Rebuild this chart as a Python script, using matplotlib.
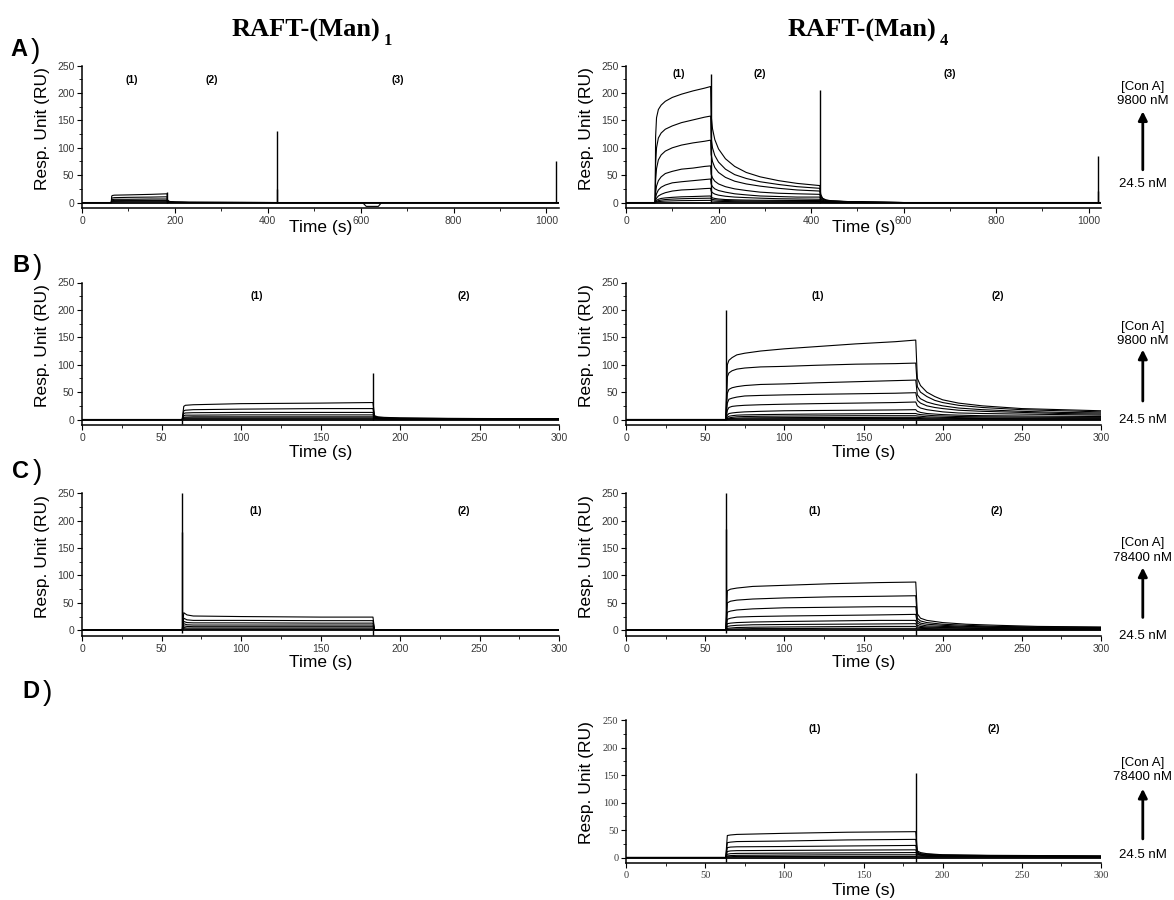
import matplotlib
matplotlib.use("Agg")
import matplotlib.pyplot as plt
from matplotlib.ticker import MultipleLocator

# ---------------- data ----------------
# Panel A, RAFT-(Man)1, 9800 nM top
times_A1 = [0, 62, 63, 64, 66, 70, 100, 150, 183, 184, 187, 192, 200, 230, 419, 421, 605, 612, 638, 645, 1027]
curves_A1 = [
    [0, 0, 0, 12, 13, 13.5, 14, 15, 16, 5, 2.5, 1.5, 1, 0.5, 0, 0, 0, 0, 0, 0, 0],
    [0, 0, 0, 8, 8.5, 9, 9.5, 10, 10.5, 3, 2, 1, 0.7, 0.3, 0, 0, 0, 0, 0, 0, 0],
    [0, 0, 0, 5, 5.5, 6, 6, 6.5, 6.5, 2, 1.5, 1, 0.5, 0.2, 0, 0, 0, 0, 0, 0, 0],
    [0, 0, 0, 3, 3.5, 4, 4, 4, 4, 1.5, 1, 0.7, 0.4, 0.2, 0, 0, 0, 0, 0, 0, 0],
    [0, 0, 0, 2, 2.5, 2.5, 3, 3, 3, 1, 0.8, 0.5, 0.3, 0.1, 0, 0, 0, 0, 0, 0, 0],
    [0, 0, 0, 1, 1.5, 1.5, 1.5, 1.5, 1.5, 0.7, 0.5, 0.3, 0.2, 0, 0, 0, -1, -7, -7, 0, 0],
]
spikes_A1 = [(183, 20), (420, 130), (420, 25), (1020, 75)]

# Panel A, RAFT-(Man)4, 9800 nM top
times_A4 = [0, 62, 63, 64, 66, 70, 76, 85, 100, 120, 145, 170, 183,
            184, 187, 192, 200, 215, 235, 260, 290, 330, 370, 419,
            421, 425, 432, 445, 470, 520, 600, 1027]
curves_A4 = [
    [0, 0, 0, 120, 155, 170, 178, 185, 192, 198, 204, 209, 212,
     160, 135, 115, 98, 80, 66, 55, 47, 40, 35, 31, 15, 8, 5, 3, 2, 1, 0, 0],
    [0, 0, 0, 70, 100, 118, 127, 134, 140, 146, 151, 156, 158,
     118, 100, 86, 74, 61, 51, 44, 38, 33, 29, 26, 12, 7, 4, 3, 2, 1, 0, 0],
    [0, 0, 0, 40, 62, 78, 87, 94, 100, 105, 109, 112, 114,
     88, 75, 64, 55, 46, 39, 34, 30, 26, 23, 21, 10, 6, 4, 3, 2, 1, 0, 0],
    [0, 0, 0, 18, 30, 40, 47, 53, 57, 61, 63, 66, 67,
     52, 45, 39, 34, 29, 25, 22, 19, 17, 16, 15, 7, 4, 3, 2, 1, 0.5, 0, 0],
    [0, 0, 0, 9, 16, 23, 28, 32, 36, 38, 40, 42, 43,
     34, 29, 25, 22, 19, 16, 14, 12, 11, 10, 10, 5, 3, 2, 1, 1, 0, 0, 0],
    [0, 0, 0, 4, 8, 12, 15, 18, 21, 23, 24, 25.5, 26,
     21, 18, 15.5, 13.5, 11.5, 10, 9, 8, 7, 6.5, 6, 3, 2, 1, 1, 0.5, 0, 0, 0],
    [0, 0, 0, 2, 4, 6, 7.5, 8.5, 9.5, 10.5, 11, 11.7, 12,
     10, 8.5, 7.5, 6.5, 5.5, 5, 4.5, 4.2, 4, 3.8, 3.6, 2, 1, 1, 0.5, 0, 0, 0, 0],
    [0, 0, 0, 1, 2, 3.5, 4.5, 5.5, 6.3, 7, 7.5, 7.8, 8,
     6.5, 5.7, 5, 4.4, 3.8, 3.3, 3, 2.7, 2.4, 2.2, 2, 1, 0.5, 0.3, 0, 0, 0, 0, 0],
    [0, 0, 0, 0.5, 1, 1.7, 2.2, 2.7, 3.1, 3.5, 3.7, 3.9, 4,
     3.3, 2.9, 2.5, 2.2, 1.9, 1.6, 1.4, 1.3, 1.2, 1.1, 1, 0.5, 0.3, 0, 0, 0, 0, 0, 0],
]
spikes_A4 = [(183, 235), (420, 205), (1020, 85), (1020, 22)]

# Panel B, RAFT-(Man)1, 9800 nM top
times_B1 = [0, 62, 63, 64, 65, 70, 100, 150, 182, 183, 184, 186, 190, 200, 230, 300]
curves_B1 = [
    [0, 0, 0, 24, 26, 27, 29, 30, 31, 31, 7, 5, 4, 3, 2, 1.5],
    [0, 0, 0, 16, 17, 18, 19, 20, 20, 20, 6, 4, 3, 2.5, 2, 1.2],
    [0, 0, 0, 11, 12, 12.5, 13, 13, 13, 13, 5, 3.5, 2.5, 2, 1.5, 1],
    [0, 0, 0, 7, 8, 8, 8.5, 8.5, 8.5, 8.5, 4, 3, 2, 1.5, 1, 0.8],
    [0, 0, 0, 4, 4.5, 5, 5, 5, 5, 5, 3, 2, 1.5, 1, 0.8, 0.5],
    [0, 0, 0, 2.5, 3, 3, 3, 3, 3, 3, 2, 1.5, 1, 0.8, 0.5, 0.3],
    [0, 0, 0, 1.5, 1.5, 1.5, 1.5, 1.5, 1.5, 1.5, 1, 1, 0.6, 0.5, 0.3, 0.2],
]
spikes_B1 = [(183, 85), (63, -8)]

# Panel B, RAFT-(Man)4, 9800 nM top
times_B4 = [0, 62, 63, 64, 65, 67, 70, 75, 85, 100, 120, 145, 170, 183,
            184, 186, 190, 195, 200, 210, 225, 250, 275, 300]
curves_B4 = [
    [0, 0, 0, 100, 108, 113, 118, 121, 125, 129, 133, 138, 142, 145, 75, 62, 50, 42, 36, 30, 25, 20, 18, 16],
    [0, 0, 0, 78, 85, 89, 92, 94, 96, 97, 99, 101, 102, 103, 60, 50, 42, 35, 31, 26, 22, 18, 16, 14],
    [0, 0, 0, 48, 55, 58, 60, 62, 64, 65, 67, 69, 71, 72, 45, 38, 32, 28, 25, 21, 18, 15, 13, 12],
    [0, 0, 0, 30, 37, 39, 41, 43, 44, 45, 46, 47, 48, 49, 35, 30, 25, 22, 20, 17, 15, 13, 11, 10],
    [0, 0, 0, 17, 22, 24, 25, 26, 27, 28, 29, 30, 31, 32, 25, 21, 18, 16, 14, 12, 11, 10, 9, 8],
    [0, 0, 0, 8, 11, 12, 13, 14, 15, 16, 16.5, 17, 17.5, 18, 15, 13, 11, 10, 9, 8, 7, 6.5, 6, 5.5],
    [0, 0, 0, 4, 6, 7, 8, 8.5, 9, 9.5, 10, 10.5, 11, 11, 10, 9, 8, 7, 6.5, 5.5, 5, 4.5, 4, 4],
    [0, 0, 0, 2, 3, 4, 5, 5.5, 6, 6.3, 6.6, 7, 7, 7, 6.5, 6, 5, 4.5, 4, 3.5, 3, 2.8, 2.6, 2.5],
    [0, 0, 0, 1, 1.5, 2, 2.5, 3, 3.3, 3.5, 3.7, 3.8, 4, 4, 4, 3.5, 3, 2.7, 2.4, 2, 1.8, 1.6, 1.5, 1.4],
    [0, 0, 0, 0.5, 0.8, 1, 1.2, 1.4, 1.5, 1.6, 1.7, 1.8, 1.9, 2, 2, 1.8, 1.5, 1.3, 1.2, 1, 0.9, 0.8, 0.7, 0.7],
]
spikes_B4 = [(63, 200), (183, -8)]

# Panel C, RAFT-(Man)1, 78400 nM top
times_C1 = [0, 62, 63, 64, 66, 70, 100, 150, 182, 183, 184, 300]
curves_C1 = [
    [0, 0, 0, 32, 28, 26, 25, 24, 24, 24, 0, 0],
    [0, 0, 0, 22, 19, 18, 18, 17.5, 17.5, 17.5, 0, 0],
    [0, 0, 0, 16, 14, 13.5, 13.5, 13, 13, 13, 0, 0],
    [0, 0, 0, 12, 10, 9.5, 9.5, 9.5, 9.5, 9.5, 0, 0],
    [0, 0, 0, 8, 7, 6.5, 6.5, 6.5, 6.5, 6.5, 0, 0],
    [0, 0, 0, 5, 4, 4, 4, 4, 4, 4, 0, 0],
    [0, 0, 0, 3, 2, 2, 2, 2, 2, 2, 0, 0],
]
spikes_C1 = [(63, 250), (63, 180), (63, -5), (183, -8)]

# Panel C, RAFT-(Man)4, 78400 nM top
times_C4 = [0, 62, 63, 64, 66, 70, 80, 100, 130, 160, 183, 184, 186, 190, 200, 215, 235, 260, 300]
curves_C4 = [
    [0, 0, 0, 72, 75, 77, 80, 82, 85, 87, 88, 30, 22, 18, 14, 11, 9, 7, 6],
    [0, 0, 0, 50, 53, 55, 57, 59, 61, 62, 63, 22, 17, 14, 11, 9, 7, 6, 5],
    [0, 0, 0, 33, 35, 37, 39, 41, 42, 43, 43, 17, 13, 11, 9, 7, 6, 5, 4],
    [0, 0, 0, 20, 22, 24, 25, 26, 27, 28, 29, 13, 10, 8, 7, 6, 5, 4, 3.5],
    [0, 0, 0, 12, 13, 14, 15, 16, 17, 18, 18, 9, 7, 6, 5, 4.5, 4, 3.5, 3],
    [0, 0, 0, 7, 8, 9, 10, 10.5, 11, 11.5, 12, 6, 5, 4.5, 4, 3.5, 3, 2.5, 2],
    [0, 0, 0, 3.5, 4, 5, 5.5, 6, 6.5, 7, 7, 4, 3.5, 3, 2.5, 2, 2, 1.5, 1.5],
    [0, 0, 0, 1.5, 2, 2.5, 3, 3, 3.5, 3.5, 3.5, 2.5, 2, 2, 1.5, 1.2, 1, 1, 0.8],
]
spikes_C4 = [(63, 250), (63, 185), (63, -5), (183, -8)]

# Panel D, RAFT-(Man)4, 78400 nM top
times_D4 = [0, 62, 63, 64, 66, 70, 100, 140, 183, 184, 186, 190, 200, 230, 300]
curves_D4 = [
    [0, 0, 0, 40, 41, 42, 44, 46, 47, 12, 9, 7, 5, 4, 3],
    [0, 0, 0, 27, 28, 29, 30, 32, 33, 10, 7, 6, 4.5, 3.5, 2.5],
    [0, 0, 0, 18, 19, 19.5, 20, 21, 22, 8, 6, 5, 4, 3, 2],
    [0, 0, 0, 11, 12, 12.5, 13, 13.5, 14, 6, 5, 4, 3, 2.5, 1.8],
    [0, 0, 0, 6, 7, 7.5, 8, 8.5, 9, 5, 4, 3, 2.5, 2, 1.5],
    [0, 0, 0, 3, 3.5, 4, 4.5, 5, 5, 3, 2.5, 2, 1.8, 1.5, 1],
    [0, 0, 0, 1.5, 1.5, 2, 2, 2, 2, 1.5, 1.2, 1, 1, 0.8, 0.6],
]
spikes_D4 = [(183, 153), (63, -8), (183, -8)]

# phase labels (time, RU)
phases_A1 = [("(1)", 107, 224), ("(2)", 280, 224), ("(3)", 680, 224)]
phases_A4 = [("(1)", 113, 234), ("(2)", 289, 234), ("(3)", 699, 234)]
phases_B1 = [("(1)", 110, 225), ("(2)", 240, 225)]
phases_B4 = [("(1)", 121, 225), ("(2)", 235, 225)]
phases_C1 = [("(1)", 109, 218), ("(2)", 240, 218)]
phases_C4 = [("(1)", 119, 218), ("(2)", 234, 218)]
phases_D4 = [("(1)", 119, 234), ("(2)", 232, 234)]

row_letters = ["A", "B", "C", "D"]
column_titles = [("RAFT-(Man)", "1"), ("RAFT-(Man)", "4")]
conc_high = ["9800 nM", "9800 nM", "78400 nM", "78400 nM"]
conc_low = "24.5 nM"

# ---------------- figure ----------------
W, H = 1174, 900
fig = plt.figure(figsize=(W / 100, H / 100), dpi=100)
SANS = "Liberation Sans"
SERIF = "Liberation Serif"

left_col = (82 / W, (559 - 82) / W)
right_col = (626 / W, (1101 - 626) / W)
rows = [(208.3, 142.6), (425.3, 142.8), (636.0, 142.7), (863.3, 143.3)]


def make_ax(col, row, xmax, xmaj, xmin, xlabel_y, serif_ticks=False):
    bottom_px, h_px = rows[row]
    ax = fig.add_axes([col[0], 1 - bottom_px / H, col[1], h_px / H])
    ax.set_xlim(0, xmax)
    ax.set_ylim(-10.5, 250)
    for s in ("top", "right"):
        ax.spines[s].set_visible(False)
    for s in ("left", "bottom"):
        ax.spines[s].set_linewidth(1.1)
    ax.xaxis.set_major_locator(MultipleLocator(xmaj))
    ax.xaxis.set_minor_locator(MultipleLocator(xmin))
    ax.yaxis.set_major_locator(MultipleLocator(50))
    ax.yaxis.set_minor_locator(MultipleLocator(25))
    ax.tick_params(which="major", direction="out", length=3.5, width=0.8, pad=2,
                   labelsize=7.5, labelcolor="#3a3a3a")
    ax.tick_params(which="minor", direction="out", length=2, width=0.6)
    fam = SERIF if serif_ticks else SANS
    for lab in ax.get_xticklabels() + ax.get_yticklabels():
        lab.set_fontfamily(fam)
    ax.set_ylabel("Resp. Unit (RU)", fontsize=12.5, family=SANS)
    ax.yaxis.set_label_coords(-0.067, 0.56)
    ax.set_xlabel("Time (s)", fontsize=12.5, family=SANS)
    ax.xaxis.set_label_coords(0.5, xlabel_y)
    return ax


def draw(ax, times, curves, spikes, phases):
    for c in curves:
        ax.plot(times, c, color="black", lw=0.8)
    ax.plot([times[0], times[-1]], [0, 0], color="black", lw=1.3)
    for t, y in spikes:
        ax.vlines(t, 0, y, color="black", lw=1.0)
    for txt, t, y in phases:
        ax.text(t, y, txt, ha="center", va="center", fontsize=7.5,
                fontweight="bold", family=SANS)


axA1 = make_ax(left_col, 0, 1027, 200, 100, -0.085)
draw(axA1, times_A1, curves_A1, spikes_A1, phases_A1)
axA4 = make_ax(right_col, 0, 1027, 200, 100, -0.085)
draw(axA4, times_A4, curves_A4, spikes_A4, phases_A4)
axB1 = make_ax(left_col, 1, 300, 50, 25, -0.135)
draw(axB1, times_B1, curves_B1, spikes_B1, phases_B1)
axB4 = make_ax(right_col, 1, 300, 50, 25, -0.135)
draw(axB4, times_B4, curves_B4, spikes_B4, phases_B4)
axC1 = make_ax(left_col, 2, 300, 50, 25, -0.135)
draw(axC1, times_C1, curves_C1, spikes_C1, phases_C1)
axC4 = make_ax(right_col, 2, 300, 50, 25, -0.135)
draw(axC4, times_C4, curves_C4, spikes_C4, phases_C4)
axD4 = make_ax(right_col, 3, 300, 50, 25, -0.135, serif_ticks=True)
draw(axD4, times_D4, curves_D4, spikes_D4, phases_D4)

right_axes = [axA4, axB4, axC4, axD4]

# column titles
for (main, sub), xc, xs in zip(column_titles, [306 / W, 862 / W], [384 / W, 940 / W]):
    fig.text(xc, 1 - 37 / H, main, ha="center", va="baseline", fontsize=19,
             fontweight="bold", family=SERIF)
    fig.text(xs, 1 - 45 / H, sub, ha="left", va="baseline", fontsize=12,
             fontweight="bold", family=SERIF)

# row letters
letter_pos = [(10, 50), (12, 266), (12, 471), (22, 692)]
for letter, (lx, ly) in zip(row_letters, letter_pos):
    fig.text(lx / W, 1 - ly / H, letter, ha="left", va="center", fontsize=17,
             fontweight="bold", family=SANS)
    fig.text((lx + 21) / W, 1 - (ly + 1) / H, ")", ha="left", va="center",
             fontsize=20, family=SANS)

# concentration annotations (axes-fraction positions per row)
# (con_a_y, high_y, arrow_top, arrow_bottom, low_y)
ann_pos = [
    (0.85, 0.75, 0.68, 0.27, 0.17),
    (0.69, 0.59, 0.53, 0.17, 0.04),
    (0.65, 0.55, 0.48, 0.13, 0.0),
    (0.70, 0.60, 0.52, 0.17, 0.06),
]
XA = 1.088
for ax, hi, (ya, yh, at, ab, yl) in zip(right_axes, conc_high, ann_pos):
    ax.text(XA, ya, "[Con A]", transform=ax.transAxes, ha="center",
            va="center", fontsize=9.5, family=SANS, clip_on=False)
    ax.text(XA, yh, hi, transform=ax.transAxes, ha="center",
            va="center", fontsize=9.5, family=SANS, clip_on=False)
    ax.annotate("", xy=(XA, at), xytext=(XA, ab), xycoords="axes fraction",
                arrowprops=dict(arrowstyle="-|>", lw=2, color="black",
                                mutation_scale=13, shrinkA=0, shrinkB=0))
    ax.text(XA, yl, conc_low, transform=ax.transAxes, ha="center",
            va="center", fontsize=9.5, family=SANS, clip_on=False)

fig.savefig("out.png", dpi=100)
